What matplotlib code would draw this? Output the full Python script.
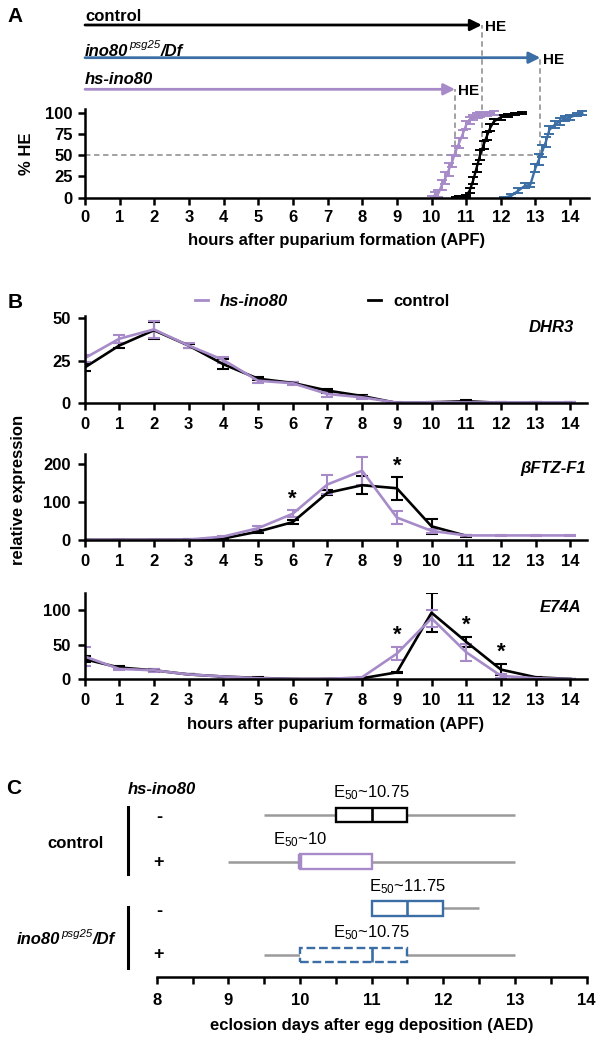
import numpy as np
import matplotlib
matplotlib.use("Agg")
import matplotlib.pyplot as plt
from matplotlib.lines import Line2D
from matplotlib.patches import Rectangle
from matplotlib.transforms import blended_transform_factory, offset_copy

plt.rcParams['font.family'] = ['Liberation Sans', 'DejaVu Sans']
plt.rcParams['mathtext.fontset'] = 'custom'
plt.rcParams['mathtext.rm'] = 'Liberation Sans'
plt.rcParams['mathtext.it'] = 'Liberation Sans:italic'
plt.rcParams['mathtext.bf'] = 'Liberation Sans:bold'

PURPLE = '#A78BC9'
BLUE = '#3B6EA5'
BLACK = '#000000'
GRAY = '#9A9A9A'

# ---------------- Panel A data ----------------
a_hs_hours = [10.0, 10.1, 10.2, 10.3, 10.4, 10.5, 10.6, 10.7, 10.8, 10.9, 11.0, 11.1, 11.2, 11.3, 11.4, 11.6, 11.8]
a_hs_vals = [0, 3, 5, 15, 23, 33, 43, 55, 65, 75, 86, 91, 95, 97, 98, 99, 100]
a_hs_err = [2, 3, 4, 6, 7, 8, 7, 6, 6, 5, 5, 4, 3, 3, 3, 2, 2]

a_ctl_hours = [10.7, 10.8, 10.9, 11.0, 11.1, 11.2, 11.3, 11.4, 11.5, 11.6, 11.7, 11.8, 12.0, 12.2, 12.4, 12.6]
a_ctl_vals = [0, 1, 1, 2, 8, 20, 35, 50, 62, 73, 83, 90, 95, 97, 99, 100]
a_ctl_err = [1, 1, 1, 1, 3, 4, 5, 6, 5, 5, 4, 3, 3, 2, 1, 1]

a_ino_hours = [12.1, 12.3, 12.5, 12.7, 12.85, 13.0, 13.1, 13.2, 13.3, 13.4, 13.55, 13.7, 13.85, 14.0, 14.2, 14.35]
a_ino_vals = [0, 2, 8, 14, 15, 35, 45, 55, 66, 80, 86, 90, 93, 95, 98, 100]
a_ino_err = [1, 2, 3, 3, 2, 5, 6, 7, 6, 5, 4, 4, 3, 3, 2, 2]

INO_PARTS = ['ino80', 'psg25', '/Df']
he_labels = ['control', 'INO', 'hs-ino80']
he_times = [11.45, 13.14, 10.68]
he_colors = [BLACK, BLUE, PURPLE]

# ---------------- Panel B data ----------------
b_hours = list(range(15))
dhr3_hs = [26.5, 38, 43.5, 34, 25.5, 13.3, 11.8, 5.5, 3.5, 0.4, 0.6, 0.5, 0.5, 0.5, 0.5]
dhr3_hs_err = [2, 2.5, 5, 1.5, 2, 1.2, 1, 1.5, 0.8, 0.3, 0.4, 0.3, 0.3, 0.3, 0.3]
dhr3_ctl = [21, 34, 43, 34, 23, 14.5, 12, 7.5, 4.3, 0.2, 0.6, 1.2, 0.3, 0.3, 0.3]
dhr3_ctl_err = [2, 1.5, 5, 1.2, 3, 1, 0.8, 1.2, 0.6, 0.2, 0.3, 0.5, 0.2, 0.2, 0.2]

ftz_hs = [0.5, 0.5, 0.5, 1, 9, 31, 69, 146, 182, 59, 24, 12, 12, 12, 12]
ftz_hs_err = [0.3, 0.3, 0.3, 0.5, 2, 7, 9, 26, 37, 17, 6, 2, 2, 2, 2]
ftz_ctl = [0.5, 0.5, 0.5, 1, 4, 22, 47, 124, 144, 136, 36, 11, np.nan, np.nan, np.nan]
ftz_ctl_err = [0.3, 0.3, 0.3, 0.5, 1, 4, 5, 7, 24, 30, 19, 2, np.nan, np.nan, np.nan]
ftz_stars = [(6, 107), (9, 195)]

e74_hs = [33, 15, 13, 7, 4, 1.5, 0.5, 0.5, 3, 37, 88, 39, 5, 1.5, 0.5]
e74_hs_err = [14, 1.5, 2, 0, 0, 0.5, 0.2, 0.2, 0.5, 9, 12, 12, 3, 0.5, 0.2]
e74_ctl = [29, 17, 13, 7, 4, 2, 0.5, 0.5, 1.5, 10, 96, 54, 14, 3, 0.5]
e74_ctl_err = [4, 2, 1.5, 0, 0, 1, 0.2, 0.2, 0.5, 1, 28, 7, 8, 0.5, 0.2]
e74_stars = [(9, 63), (11, 78), (12, 39)]

# ---------------- Panel C data ----------------
c_rows = [4, 3, 2, 1]
c_whislo = [9.5, 9.0, 11.0, 9.5]
c_q1 = [10.5, 10.0, 11.0, 10.0]
c_med = [11.0, 10.0, 11.5, 11.0]
c_q3 = [11.5, 11.0, 12.0, 11.5]
c_whishi = [13.0, 13.0, 12.5, 13.0]
c_colors = [BLACK, PURPLE, BLUE, BLUE]
c_styles = ['-', '-', '-', '--']
c_e50 = [r'E$_{50}$~10.75', r'E$_{50}$~10', r'E$_{50}$~11.75', r'E$_{50}$~10.75']
c_signs = ['-', '+', '-', '+']

W, H = 607, 1050
fig = plt.figure(figsize=(W / 100, H / 100), dpi=100)
renderer = fig.canvas.get_renderer()


def fx(x):
    return x / W


def fy(y):
    return 1 - y / H


def ax_px(x0, x1, ytop, ybot):
    return fig.add_axes([x0 / W, 1 - ybot / H, (x1 - x0) / W, (ybot - ytop) / H])


def ino_label(x_left, y_center, size=12):
    """Draw ino80^psg25/Df as separate real text pieces, left-aligned."""
    base = y_center + 0.36 * size * 100 / 72  # baseline in px (downwards)
    t1 = fig.text(fx(x_left), fy(base), INO_PARTS[0], fontsize=size, fontweight='bold',
                  fontstyle='italic', ha='left', va='baseline')
    bb = t1.get_window_extent(renderer)
    t2 = fig.text(bb.x1 / W + 0.5 / W, fy(base - 0.42 * size * 100 / 72), INO_PARTS[1],
                  fontsize=size * 0.68, fontstyle='italic', ha='left', va='baseline')
    bb2 = t2.get_window_extent(renderer)
    fig.text(bb2.x1 / W + 0.5 / W, fy(base), INO_PARTS[2], fontsize=size, fontweight='bold',
             fontstyle='italic', ha='left', va='baseline')


TICKFS = 12
LABFS = 12


def style_axis(ax, pad=4):
    for s in ['top', 'right']:
        ax.spines[s].set_visible(False)
    for s in ['left', 'bottom']:
        ax.spines[s].set_linewidth(1.8)
    ax.tick_params(direction='out', length=5, width=1.8, labelsize=TICKFS, pad=pad)
    for lab in ax.get_xticklabels() + ax.get_yticklabels():
        lab.set_fontweight('bold')


# ================= Panel A =================
axA = ax_px(85, 588.5, 109.3, 197.5)
axA.set_xlim(0, 14.53)
axA.set_ylim(0, 104.4)
axA.set_xticks(range(15))
axA.set_yticks([0, 25, 50, 75, 100])
style_axis(axA)
axA.set_xlabel('hours after puparium formation (APF)', fontsize=LABFS, fontweight='bold', labelpad=6)
axA.set_ylabel('% HE', fontsize=LABFS, fontweight='bold', labelpad=8)

ekw = dict(lw=1.7, elinewidth=1.4, capsize=3.5, capthick=1.4)
axA.errorbar(a_ino_hours, a_ino_vals, yerr=a_ino_err, color=BLUE, **ekw)
axA.errorbar(a_ctl_hours, a_ctl_vals, yerr=a_ctl_err, color=BLACK, **ekw)
axA.errorbar(a_hs_hours, a_hs_vals, yerr=a_hs_err, color=PURPLE, **ekw)

transA = blended_transform_factory(axA.transData, fig.transFigure)
arrow_y = [25, 57.7, 89.3]
label_y = [16.2, 49.5, 79.5]
inv = axA.transData.inverted()
for lab, t, ya, yl, c in zip(he_labels, he_times, arrow_y, label_y, he_colors):
    axA.annotate('', xy=(t, fy(ya)), xytext=(0, fy(ya)), xycoords=transA, textcoords=transA,
                 arrowprops=dict(arrowstyle='-|>', color=c, lw=2.0, mutation_scale=17,
                                 shrinkA=0, shrinkB=0), annotation_clip=False)
    if lab == 'INO':
        ino_label(85, yl)
    else:
        style = 'normal' if lab == 'control' else 'italic'
        fig.text(fx(85), fy(yl), lab, fontsize=12, fontweight='bold', fontstyle=style,
                 ha='left', va='center')
    axA.text(t, fy(ya + 2), 'HE', transform=offset_copy(transA, fig=fig, x=3, y=0, units='dots'),
             fontsize=11, fontweight='bold', ha='left', va='center')
    ytop_data = inv.transform(fig.transFigure.transform((0, fy(ya))))[1]
    axA.plot([t, t], [50, ytop_data], ls=(0, (3, 2)), color=GRAY, lw=1.3, clip_on=False, zorder=0)
axA.plot([0, he_times[1]], [50, 50], ls=(0, (3, 2)), color=GRAY, lw=1.3, clip_on=False, zorder=0)

fig.text(fx(15), fy(17), 'A', fontsize=15, fontweight='bold', ha='center', va='center')

# ================= Panel B =================
b_axes_px = [(316, 403.3, 51.4, [0, 25, 50], 'DHR3', dhr3_hs, dhr3_hs_err, dhr3_ctl, dhr3_ctl_err, [], (574, 328)),
             (454, 540, 226, [0, 100, 200], '\u03b2FTZ-F1', ftz_hs, ftz_hs_err, ftz_ctl, ftz_ctl_err, ftz_stars, (586, 468)),
             (593.3, 679.3, 124, [0, 50, 100], 'E74A', e74_hs, e74_hs_err, e74_ctl, e74_ctl_err, e74_stars, (581, 608))]
bkw = dict(lw=1.9, elinewidth=1.5, capsize=4.2, capthick=1.5)
axesB = []
for (yt, yb, ymax, yt_ticks, gene, hs, hs_e, ctl, ctl_e, stars, gpos) in b_axes_px:
    ax = ax_px(84.5, 587, yt, yb)
    ax.set_xlim(0, 14.48)
    ax.set_ylim(0, ymax)
    ax.set_xticks(b_hours)
    ax.set_yticks(yt_ticks)
    style_axis(ax, pad=5)
    ax.errorbar(b_hours, ctl, yerr=ctl_e, color=BLACK, **bkw)
    ax.errorbar(b_hours, hs, yerr=hs_e, color=PURPLE, **bkw)
    for (sx, sy) in stars:
        ax.text(sx, sy, '*', fontsize=16, ha='center', va='center', fontweight='bold')
    fig.text(fx(gpos[0]), fy(gpos[1]), gene, fontsize=12, fontweight='bold', fontstyle='italic',
             ha='right', va='center')
    axesB.append(ax)
axesB[-1].set_xlabel('hours after puparium formation (APF)', fontsize=LABFS, fontweight='bold', labelpad=6)
fig.text(fx(19), fy(490), 'relative expression', rotation=90, fontsize=LABFS, fontweight='bold',
         ha='center', va='center')

handles = [Line2D([], [], color=PURPLE, lw=2), Line2D([], [], color=BLACK, lw=2)]
leg = fig.legend(handles, ['hs-ino80', 'control'], ncol=2, frameon=False, loc='center',
                 bbox_to_anchor=(fx(322), fy(301.7)), handlelength=0.8, handletextpad=0.7,
                 columnspacing=4.8, fontsize=12)
for txt, st in zip(leg.get_texts(), ['italic', 'normal']):
    txt.set_fontweight('bold')
    txt.set_fontstyle(st)

fig.text(fx(15), fy(303), 'B', fontsize=15, fontweight='bold', ha='center', va='center')

# ================= Panel C =================
axC = ax_px(156.8, 586.5, 780, 976.7)
axC.set_xlim(8, 14)
axC.set_ylim(0.535, 4.75)
for s in ['top', 'right', 'left']:
    axC.spines[s].set_visible(False)
axC.spines['bottom'].set_linewidth(1.8)
axC.set_yticks([])
axC.set_xticks(range(8, 15))
axC.set_xticks(np.arange(8.5, 14, 1.0), minor=True)
axC.tick_params(axis='x', which='both', direction='out', length=5, width=1.8, labelsize=TICKFS, pad=7)
for lab in axC.get_xticklabels():
    lab.set_fontweight('bold')
axC.set_xlabel('eclosion days after egg deposition (AED)', fontsize=LABFS, fontweight='bold', labelpad=7)

bh = 0.315
for r, lo, q1, md, q3, hi, c, ls, e50 in zip(c_rows, c_whislo, c_q1, c_med, c_q3, c_whishi, c_colors, c_styles, c_e50):
    axC.hlines(r, lo, q1, color=GRAY, lw=1.8, zorder=1)
    axC.hlines(r, q3, hi, color=GRAY, lw=1.8, zorder=1)
    axC.add_patch(Rectangle((q1, r - bh / 2), q3 - q1, bh, facecolor='white', edgecolor=c,
                            lw=1.7, ls=ls, zorder=2))
    mlw = 3.2 if md == q1 else 1.9
    axC.vlines(md, r - bh / 2, r + bh / 2, color=c, lw=mlw, zorder=3)
    axC.text(md, r + 0.47, e50, fontsize=12, ha='center', va='center')

fig.text(fx(162), fy(789), 'hs-ino80', fontsize=12, fontweight='bold', fontstyle='italic', ha='center', va='center')
fig.text(fx(76), fy(843), 'control', fontsize=12, fontweight='bold', ha='center', va='center')
ino_label(17, 938)
for (y0, y1) in [(807, 874), (907, 968)]:
    fig.add_artist(Line2D([fx(127.8), fx(127.8)], [fy(y0), fy(y1)], color=BLACK, lw=2.2))
rowpx = [817, 862, 912, 955]
for s, yp in zip(c_signs, rowpx):
    fig.text(fx(159), fy(yp), s, fontsize=13, fontweight='bold', ha='center', va='center')

fig.text(fx(14), fy(789), 'C', fontsize=15, fontweight='bold', ha='center', va='center')

fig.savefig('out.png', dpi=100)
